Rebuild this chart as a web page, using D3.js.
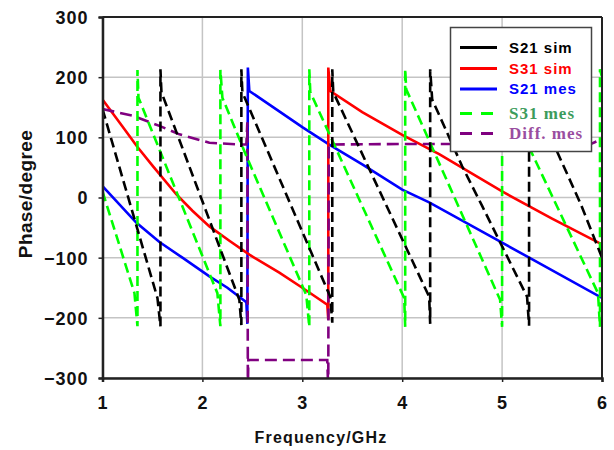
<!DOCTYPE html>
<html>
<head>
<meta charset="utf-8">
<script src="https://cdn.jsdelivr.net/npm/d3@7"></script>
<style>
  body { margin: 0; background: #fff; }
  svg { display: block; }
</style>
</head>
<body>
<div id="chart"></div>
<script>
// tick values
const xTicks = [1, 2, 3, 4, 5, 6];
const yTicks = [-300, -200, -100, 0, 100, 200, 300];

// series as [frequency GHz, phase degree]
const s21Sim = [[1.00,147],[1.55,-167],[1.58,-214],[1.58,213],[1.59,175],[2.37,-170],[2.39,-212],[2.39,213],
  [2.40,175],[3.28,-165],[3.30,-208],[3.30,213],[3.31,175],[4.27,-165],[4.28,-210],[4.28,213],[4.30,163],
  [4.60,52],[4.80,-14],[5.25,-165],[5.27,-213],[5.27,213],[5.29,172],[5.60,58],[5.79,-12],[6.00,-100]];
const s31Sim = [[1.00,163],[1.20,118],[1.35,84],[1.50,53],[1.74,5],[1.90,-22],[2.07,-48],[2.27,-72],
  [2.47,-95],[2.77,-125],[3.00,-150],[3.25,-178],[3.26,-203],[3.26,216],[3.28,177],[3.60,142],[4.00,104],
  [4.37,72],[5.00,10],[5.50,-35],[6.00,-78]];
const s21Mes = [[1.00,19],[1.34,-42],[1.57,-74],[1.80,-100],[2.07,-131],[2.25,-150],[2.44,-174],[2.45,-210],
  [2.455,216],[2.47,177],[3.00,117],[3.27,88],[3.60,55],[4.00,13],[4.27,-8],[5.00,-75],[6.00,-167]];
const s31Mes = [[1.00,10],[1.32,-159],[1.35,-214],[1.35,212],[1.36,166],[2.15,-159],[2.18,-214],[2.18,212],
  [2.20,166],[2.44,69],[3.04,-162],[3.07,-215],[3.07,213],[3.08,175],[4.02,-167],[4.03,-215],[4.03,213],
  [4.04,180],[4.98,-170],[5.00,-215],[5.00,213],[5.01,175],[5.96,-159],[5.98,-215],[5.98,213],[6.00,200]];
const diffMes = [[1.00,147],[1.30,136],[1.57,119],[1.77,105],[2.07,91],[2.37,88],[2.44,88],[2.45,125],
  [2.455,-320],[2.46,-270],[3.25,-270],[3.26,-320],[3.265,88],[4.00,89],[5.00,89],[5.90,90],[6.00,97]];

const seriesNames = ["S21 sim", "S31 sim", "S21 mes", "S31 mes", "Diff. mes"];

const width = 614, height = 450;
const margin = { left: 102.5, top: 17, right: 12, bottom: 72 };
const plotW = width - margin.left - margin.right;
const plotH = height - margin.top - margin.bottom;

const svg = d3.select("#chart").append("svg")
    .attr("width", width)
    .attr("height", height);

const x = d3.scaleLinear().domain([1, 6]).range([0, plotW]);
const y = d3.scaleLinear().domain([-300, 300]).range([plotH, 0]);

const g = svg.append("g").attr("transform", `translate(${margin.left},${margin.top})`);

// gridlines
g.selectAll(".vgrid").data(xTicks).enter().append("line")
    .attr("x1", d => x(d)).attr("x2", d => x(d))
    .attr("y1", 0).attr("y2", plotH)
    .attr("stroke", "#c4c4c4").attr("stroke-width", 1.5);
g.selectAll(".hgrid").data(yTicks).enter().append("line")
    .attr("x1", 0).attr("x2", plotW)
    .attr("y1", d => y(d)).attr("y2", d => y(d))
    .attr("stroke", "#c4c4c4").attr("stroke-width", 1.5);

g.append("clipPath").attr("id", "clip")
  .append("rect").attr("width", plotW).attr("height", plotH);

const line = d3.line().x(d => x(d[0])).y(d => y(d[1]));

const series = [
  { data: s21Mes, color: "#0000ff", dash: null },
  { data: s31Sim, color: "#ff0000", dash: null },
  { data: diffMes, color: "#800080", dash: "12,6" },
  { data: s31Mes, color: "#00ff00", dash: "10,5" },
  { data: s21Sim, color: "#000000", dash: "10,5" }
];

const lines = g.append("g").attr("clip-path", "url(#clip)");
series.forEach(s => {
  lines.append("path")
      .datum(s.data)
      .attr("d", line)
      .attr("fill", "none")
      .attr("stroke", s.color)
      .attr("stroke-width", 2.6)
      .attr("stroke-dasharray", s.dash);
});

// frame top / right
g.append("line").attr("x1", 0).attr("x2", plotW).attr("y1", 0).attr("y2", 0)
    .attr("stroke", "#222").attr("stroke-width", 2);
g.append("line").attr("x1", plotW).attr("x2", plotW).attr("y1", 0).attr("y2", plotH)
    .attr("stroke", "#222").attr("stroke-width", 2);

// axes
const xAxis = d3.axisBottom(x).tickValues(xTicks).tickSize(4).tickPadding(14).tickFormat(d3.format("d"));
const yAxis = d3.axisLeft(y).tickValues(yTicks).tickSize(4).tickPadding(10).tickFormat(d3.format("d"));

const xg = g.append("g").attr("transform", `translate(0,${plotH})`).call(xAxis);
const yg = g.append("g").call(yAxis);

[xg, yg].forEach(a => {
  a.select(".domain").attr("stroke", "#222").attr("stroke-width", 2.5);
  a.selectAll(".tick line").attr("stroke", "#222").attr("stroke-width", 1.5);
  a.selectAll(".tick text")
      .attr("fill", "#111")
      .style("font-family", "'Liberation Sans', Arial, sans-serif")
      .style("font-weight", "bold")
      .style("font-size", "18px")
      .style("letter-spacing", "1px");
});
yg.selectAll(".tick text").attr("dy", "0.36em");

// axis titles
svg.append("text")
    .attr("x", 321).attr("y", 443)
    .attr("text-anchor", "middle")
    .style("font-family", "'Liberation Sans', Arial, sans-serif")
    .style("font-weight", "bold").style("font-size", "16px")
    .style("letter-spacing", "1.2px")
    .attr("fill", "#111")
    .text("Frequency/GHz");

svg.append("text")
    .attr("transform", "translate(32,194) rotate(-90)")
    .attr("text-anchor", "middle")
    .style("font-family", "'Liberation Sans', Arial, sans-serif")
    .style("font-weight", "bold").style("font-size", "19px")
    .style("letter-spacing", "0.4px")
    .attr("fill", "#111")
    .text("Phase/degree");

// legend
const legendItems = [
  { name: seriesNames[0], color: "#000000", dash: null, text: "#000000", serif: false, y: 47.5 },
  { name: seriesNames[1], color: "#ff0000", dash: null, text: "#ff0000", serif: false, y: 68.5 },
  { name: seriesNames[2], color: "#0000ff", dash: null, text: "#0000ff", serif: false, y: 89 },
  { name: seriesNames[3], color: "#00ff00", dash: "12,9", text: "#3c9c5c", serif: true, y: 113.5 },
  { name: seriesNames[4], color: "#800080", dash: "12,9", text: "#9a4ea0", serif: true, y: 133.5 }
];

const legend = svg.append("g");
legend.append("rect")
    .attr("x", 450.5).attr("y", 27.5)
    .attr("width", 141).attr("height", 124)
    .attr("fill", "#fff").attr("stroke", "#444").attr("stroke-width", 1.5);

legendItems.forEach(d => {
  legend.append("line")
      .attr("x1", 460).attr("x2", 497)
      .attr("y1", d.y).attr("y2", d.y)
      .attr("stroke", d.color).attr("stroke-width", 2.8)
      .attr("stroke-dasharray", d.dash);
  legend.append("text")
      .attr("x", 509).attr("y", d.y + 5)
      .attr("fill", d.text)
      .style("font-family", d.serif ? "'Liberation Serif', 'Times New Roman', serif" : "'Liberation Sans', Arial, sans-serif")
      .style("font-weight", "bold")
      .style("font-size", d.serif ? "17px" : "15px")
      .style("letter-spacing", "1px")
      .text(d.name);
});
</script>
</body>
</html>
